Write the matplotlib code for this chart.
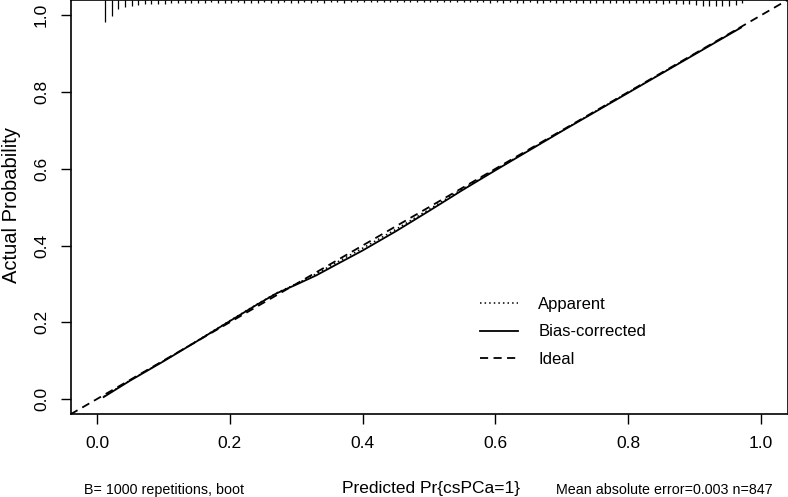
import numpy as np
import matplotlib
matplotlib.use("Agg")
import matplotlib.pyplot as plt

plt.rcParams["font.family"] = ["Liberation Sans", "DejaVu Sans"]
plt.rcParams["font.size"] = 12

# calibration curves (predicted vs actual)
pred = [0.01, 0.05, 0.10, 0.15, 0.20, 0.24, 0.27, 0.30, 0.33, 0.36, 0.40,
        0.45, 0.50, 0.55, 0.60, 0.65, 0.70, 0.75, 0.80, 0.85, 0.90, 0.95,
        0.97]
bias_corrected = [0.005, 0.048, 0.098, 0.150, 0.203, 0.245, 0.275, 0.298,
                  0.322, 0.350, 0.387, 0.437, 0.490, 0.544, 0.596, 0.647,
                  0.698, 0.748, 0.798, 0.848, 0.898, 0.948, 0.968]
apparent = [0.006, 0.049, 0.099, 0.151, 0.204, 0.246, 0.276, 0.300,
            0.326, 0.355, 0.393, 0.442, 0.494, 0.547, 0.598, 0.648,
            0.699, 0.749, 0.799, 0.849, 0.899, 0.949, 0.969]

# spike histogram of predicted probabilities along the top
spike_counts = [60, 44, 25, 19, 16, 14, 12, 11, 10, 10,
                9, 8, 9, 8, 7, 9, 5, 8, 7, 8,
                5, 7, 8, 7, 6, 7, 8, 6, 7, 7, 6, 7, 6, 7, 5, 6, 7, 6, 6, 5,
                6, 5, 6, 6, 5, 6, 5, 6, 6, 5, 6, 6, 5, 6, 6, 5, 6, 6, 7, 6,
                7, 6, 7, 7, 6, 7, 7, 6, 7, 7, 6, 7, 8, 7, 7, 8, 7, 8, 8, 9,
                8, 9, 8, 9, 10, 9, 11, 10, 12, 14,
                17, 16, 17, 16, 17, 15, 8]
spike_x = np.round(0.012 + 0.01 * np.arange(len(spike_counts)), 3)

ticks = [0.0, 0.2, 0.4, 0.6, 0.8, 1.0]

fig = plt.figure(figsize=(7.88, 4.97), dpi=100)
ax = fig.add_axes([70.5 / 788, 1 - 414.3 / 497, 717 / 788, 414.3 / 497])
ax.set_xlim(-0.04, 1.04)
ax.set_ylim(-0.04, 1.04)

# ideal line across the whole box
ax.plot([-0.04, 1.04], [-0.04, 1.04], color="black", lw=1.3,
        dashes=(4.5, 3), label="Ideal")
ax.plot(pred, apparent, color="black", lw=1.1, dashes=(1, 2),
        label="Apparent")
ax.plot(pred, bias_corrected, color="black", lw=1.3, label="Bias-corrected")

counts = np.array(spike_counts, dtype=float)
ax.vlines(spike_x, 1.04 - counts / counts.max() * 0.057, 1.04,
          color="black", lw=0.9)

h = {l.get_label(): l for l in ax.get_lines()}
order = ["Apparent", "Bias-corrected", "Ideal"]
ax.legend([h[k] for k in order], order, loc="upper left",
          bbox_to_anchor=(480 / 788, 1 - 297 / 497),
          bbox_transform=fig.transFigure, frameon=False, fontsize=12,
          handlelength=2.3, handletextpad=1.2, labelspacing=0.75,
          borderpad=0, borderaxespad=0)

ax.set_xticks(ticks)
ax.set_yticks(ticks)
ax.set_xticklabels([f"{t:.1f}" for t in ticks])
ax.set_yticklabels([f"{t:.1f}" for t in ticks])
ax.tick_params(direction="out", length=7.5, width=1, pad=8, labelsize=12.5)
for lbl in ax.get_yticklabels():
    lbl.set_rotation(90)
    lbl.set_va("center")
for s in ax.spines.values():
    s.set_linewidth(1.2)

fig.text(12 / 788, 1 - 205 / 497, "Actual Probability", rotation=90,
         ha="center", va="center", fontsize=14.5)
fig.text(431 / 788, 1 - 489 / 497, "Predicted Pr{csPCa=1}",
         ha="center", va="center", fontsize=12.5)
fig.text(84 / 788, 1 - 490 / 497, "B= 1000 repetitions, boot",
         ha="left", va="center", fontsize=10.3)
fig.text(773 / 788, 1 - 490 / 497, "Mean absolute error=0.003 n=847",
         ha="right", va="center", fontsize=10.3)

fig.savefig("out.png", dpi=100)
